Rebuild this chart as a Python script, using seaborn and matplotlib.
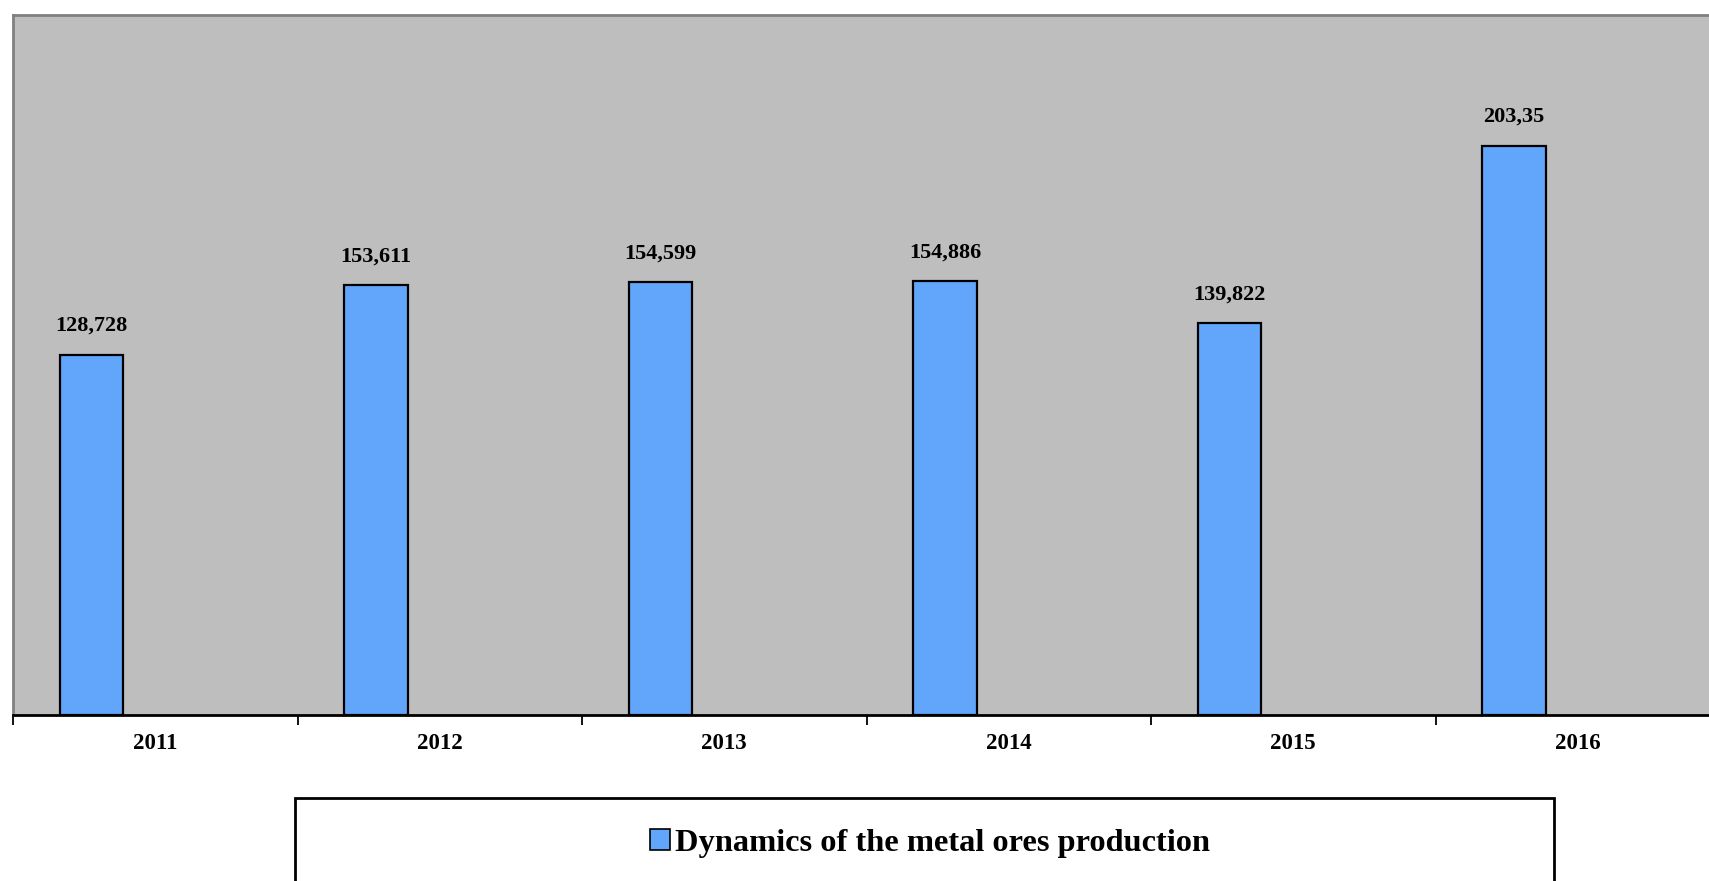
import numpy as np
import pandas as pd
import matplotlib
matplotlib.use("Agg")
import matplotlib.pyplot as plt
from matplotlib.patches import Patch, Rectangle
import seaborn as sns

# Metal ores production by year
years = ["2011", "2012", "2013", "2014", "2015", "2016"]
production = [128.728, 153.611, 154.599, 154.886, 139.822, 203.35]
value_labels = ["128,728", "153,611", "154,599", "154,886", "139,822", "203,35"]
series_name = "Dynamics of the metal ores production"

bar_color = "#62A6FB"
panel_color = "#BEBEBE"

sns.set_theme(style="white")
plt.rcParams["font.family"] = ["Liberation Serif", "DejaVu Serif"]
plt.rcParams["font.weight"] = "bold"
plt.rcParams["text.color"] = "black"

df = pd.DataFrame({"Year": years, "Production": production, "Series": series_name})

# Three-slot cluster per year; only the first slot carries data
hue_levels = [series_name, "slot_b", "slot_c"]
palette = {series_name: bar_color, "slot_b": bar_color, "slot_c": bar_color}

fig = plt.figure(figsize=(17.09, 8.81), dpi=100)
W, H = 1709, 881
ax = fig.add_axes([13 / W, 1 - 715 / H, 1707 / W, 700 / H])
ax.set_facecolor(panel_color)

sns.barplot(data=df, x="Year", y="Production", hue="Series", hue_order=hue_levels,
            palette=palette, width=0.67, gap=0, dodge=True, legend=False,
            edgecolor="black", linewidth=1.6, saturation=1, ax=ax)

ax.set_xlim(-0.5, 5.5)
ax.set_ylim(0, 250)
ax.set_xlabel("")
ax.set_ylabel("")
ax.set_yticks([])

# Value labels above each bar
for bar, txt in zip(ax.patches[:len(years)], value_labels):
    ax.annotate(txt, (bar.get_x() + bar.get_width() / 2, bar.get_height()),
                xytext=(0, 17), textcoords="offset points", ha="center", va="baseline",
                fontsize=16, fontweight="bold", color="black")

# Year labels at slot centres, tick marks on slot boundaries
ax.set_xticks(range(len(years)))
ax.set_xticklabels(years, fontsize=16.5, fontweight="bold", color="black")
ax.set_xticks(np.arange(-0.5, len(years), 1.0), minor=True)
ax.tick_params(axis="x", which="major", length=0, pad=13, colors="black")
ax.tick_params(axis="x", which="minor", length=7, width=1.3, color="black", bottom=True)

for side in ["top", "left", "right"]:
    ax.spines[side].set_color("#808080")
    ax.spines[side].set_linewidth(2)
ax.spines["bottom"].set_color("black")
ax.spines["bottom"].set_linewidth(2)

# Legend frame and entry below the chart
fig.patches.append(Rectangle((295 / W, -0.05), (1554 - 295) / W, (881 - 798) / H + 0.05,
                             transform=fig.transFigure, fill=False, edgecolor="black",
                             linewidth=2))
handle = Patch(facecolor=bar_color, edgecolor="black", linewidth=1.2)
leg = fig.legend([handle], [series_name], loc="center", bbox_to_anchor=(930 / W, 1 - 843 / H),
                 frameon=False, prop={"family": "Liberation Serif", "weight": "bold", "size": 23.3},
                 handlelength=0.63, handleheight=0.63, handletextpad=0.15)
for t in leg.get_texts():
    t.set_color("black")

fig.savefig("out.png", dpi=100, facecolor="white")
